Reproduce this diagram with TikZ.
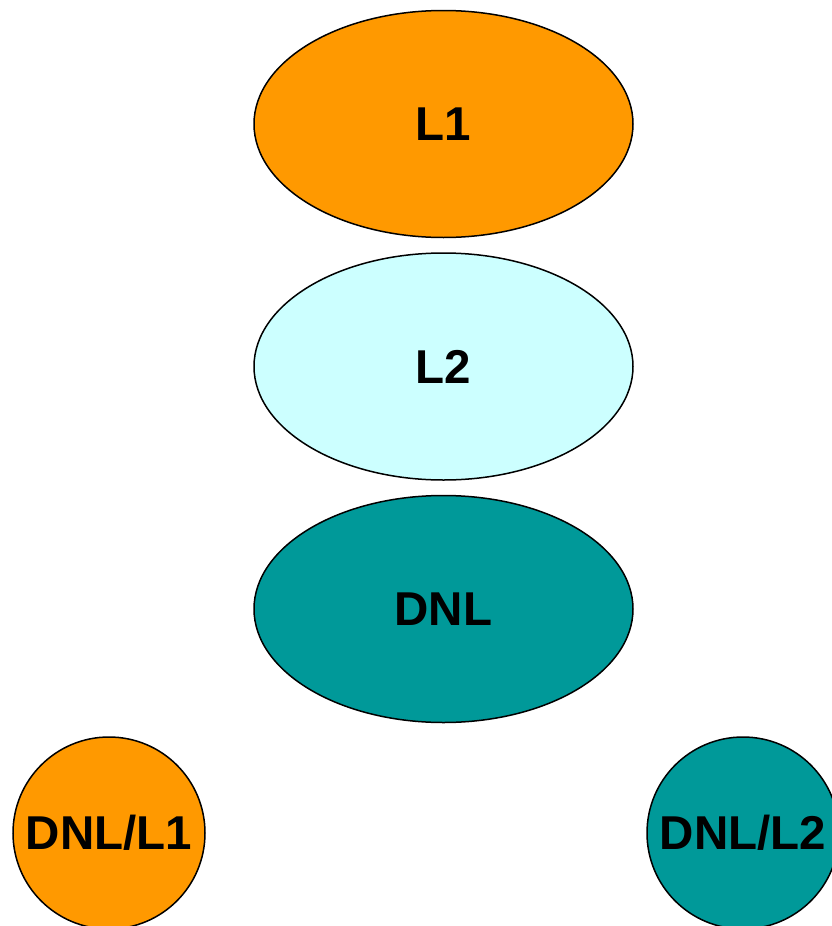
\documentclass[tikz,border=0pt]{standalone}
\usepackage{fontspec}
\setmainfont{Liberation Sans}
\usetikzlibrary{shapes.geometric}
\definecolor{orangeF}{HTML}{FF9900}
\definecolor{cyanF}{HTML}{CCFFFF}
\definecolor{tealF}{HTML}{009999}
\tikzset{
  lbl/.style={font=\fontsize{47.5}{52}\selectfont\bfseries, text=black, inner sep=0pt},
  ell/.style={ellipse, draw=black, line width=1.5pt, minimum width=379pt, minimum height=227pt, lbl},
  circ/.style={circle, draw=black, line width=1.5pt, minimum size=192pt, lbl}
}
\begin{document}
\begin{tikzpicture}[x=1pt,y=-1pt]
\useasboundingbox (0,0) rectangle (832,926);
\node[ell, fill=orangeF] (l1) at (443.5,124) {L1};
\node[ell, fill=cyanF] (l2) at (443.5,366.5) {L2};
\node[ell, fill=tealF] (dnl) at (443.5,609) {DNL};
\node[circ, fill=orangeF] (dl1) at (109,833) {DNL/L1};
\node[circ, fill=tealF] (dl2) at (743,833) {DNL/L2};
\end{tikzpicture}
\end{document}
